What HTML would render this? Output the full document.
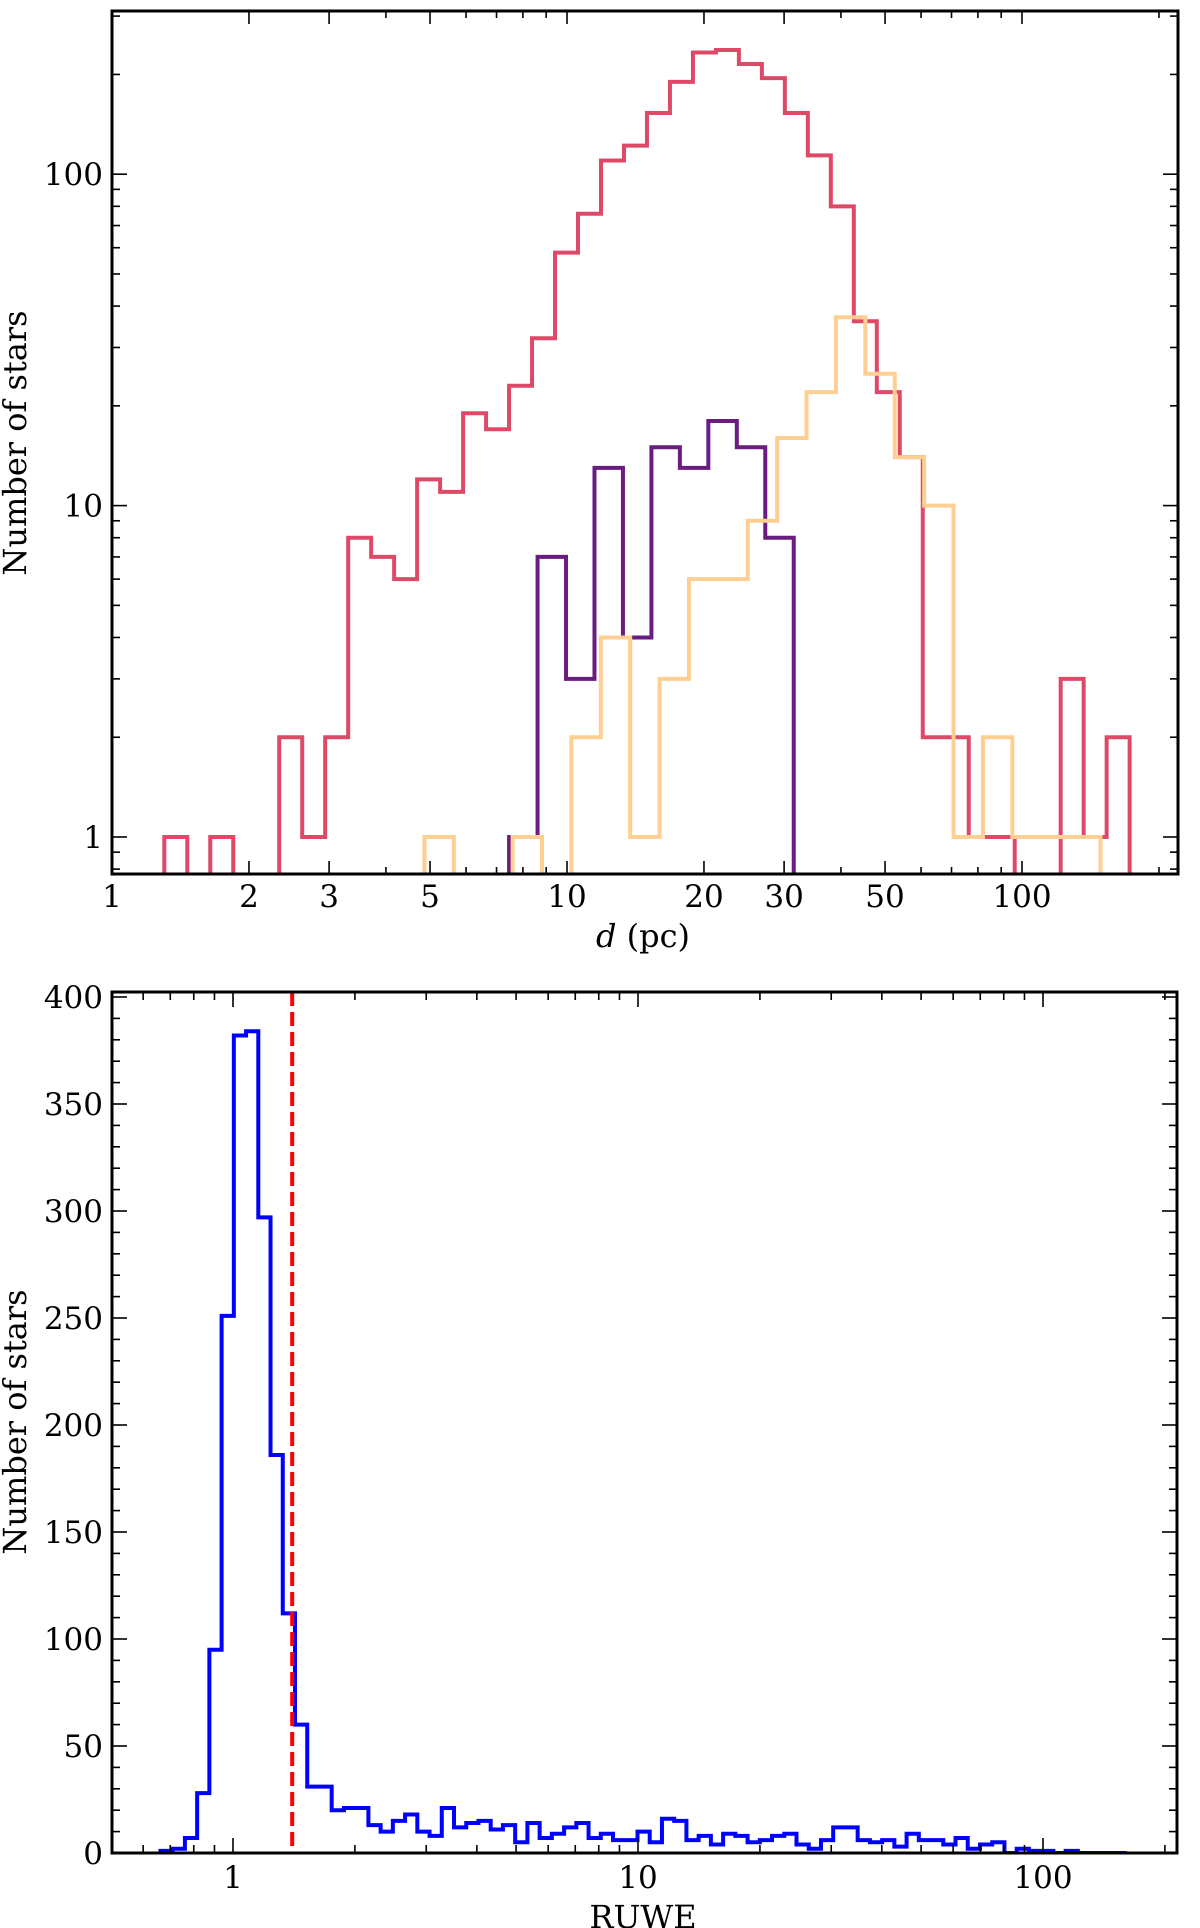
<!DOCTYPE html>
<html><head><meta charset="utf-8">
<style>
html,body{margin:0;padding:0;background:#fff;}
svg{display:block;font-family:"DejaVu Serif","Liberation Serif",serif;}
</style></head>
<body>
<svg id="fig" xmlns="http://www.w3.org/2000/svg" width="1200" height="1928" viewBox="0 0 1200 1928">
<defs>
<clipPath id="clipTop"><rect x="112" y="11" width="1066" height="863"/></clipPath>
<clipPath id="clipBot"><rect x="112" y="992" width="1065" height="861"/></clipPath>
</defs>
<g id="topPanel"></g>
<g id="botPanel"></g>
</svg>
<script>
// ---------- Top panel data (distance, pc) ----------
const redRange = [1.303, 172.4];
const redCounts = [1,0,1,0,0,2,1,2,8,7,6,12,11,19,17,23,32,58,76,110,122,153,190,233,237,215,195,153,114,80,36,22,14,2,2,1,1,0,0,3,1,2];
const purpleRange = [7.46, 31.5];
const purpleCounts = [1,7,3,13,4,15,13,18,15,8];
const orangeRange = [4.86, 148.8];
const orangeCounts = [1,0,0,1,0,2,4,1,3,6,6,9,16,22,37,25,14,10,1,2,1,1,1];
const topXLabels = [1,2,3,5,10,20,30,50,100];
const topYLabels = [1,10,100];

// ---------- Bottom panel data (RUWE) ----------
const ruweRange = [0.662, 161];
const ruweCounts = [1,2,7,28,95,251,382,384,297,186,112,60,31,31,20,21,21,13,10,15,18,10,8,21,12,14,15,11,13,5,14,7,9,12,14,7,9,6,6,10,5,16,15,6,8,4,9,8,5,6,8,9,4,2,6,12,12,6,5,6,3,9,6,6,4,7,2,4,5,0,2,1,1,0,1,0,0,0,0];
const ruweCut = [1.4];
const botXLabels = [1,10,100];
const botYLabels = [0,50,100,150,200,250,300,350,400];

const NS = "http://www.w3.org/2000/svg";
function mk(tag, attrs, parent){
  const e = document.createElementNS(NS, tag);
  for (const k in attrs) e.setAttribute(k, attrs[k]);
  parent.appendChild(e);
  return e;
}

// ---------- Top axes ----------
const T = {x0:112, x1:1178, y0:11, y1:874};
const tX = v => 112 + 455 * Math.log10(v);
const tY = v => 837 - 331.4 * Math.log10(v);
const topG = document.getElementById('topPanel');

function stepPathLog(range, counts){
  const n = counts.length;
  const la = Math.log10(range[0]), lb = Math.log10(range[1]);
  const edge = i => tX(Math.pow(10, la + (lb - la) * i / n));
  const yv = c => c > 0 ? tY(c) : 2000;
  let d = `M${edge(0)},2000`;
  for (let i = 0; i < n; i++){
    d += ` L${edge(i)},${yv(counts[i])} L${edge(i+1)},${yv(counts[i])}`;
  }
  d += ` L${edge(n)},2000`;
  return d;
}
const gSeries = mk('g', {'clip-path':'url(#clipTop)'}, topG);
const pRed = mk('path', {d: stepPathLog(redRange, redCounts), fill:'none', stroke:'#de4968', 'stroke-width':4}, gSeries);


const pPur = mk('path', {d: stepPathLog(purpleRange, purpleCounts), fill:'none', stroke:'#6a1c81', 'stroke-width':4}, gSeries);


const pOr = mk('path', {d: stepPathLog(orangeRange, orangeCounts), fill:'none', stroke:'#fecf92', 'stroke-width':4}, gSeries);



const gTT = mk('g', {stroke:'#000','stroke-width':1.6}, topG);


for (let dec = 1; dec <= 100; dec *= 10){
  for (let m = 1; m <= 9; m++){
    const v = dec * m; const x = tX(v);
    if (x <= T.x0 + 0.5 || x >= T.x1) continue;
    const L = topXLabels.includes(v) ? 13 : 7;
    mk('line', {x1:x, x2:x, y1:T.y1, y2:T.y1 - L}, gTT);
    mk('line', {x1:x, x2:x, y1:T.y0, y2:T.y0 + L}, gTT);
  }
}
for (let dec = 0.1; dec <= 100; dec *= 10){
  for (let m = 1; m <= 9; m++){
    const v = dec * m; const y = tY(v);
    if (y <= T.y0 || y >= T.y1) continue;
    const L = topYLabels.some(t => Math.abs(t - v) < 1e-6) ? 15 : 8;
    mk('line', {x1:T.x0, x2:T.x0 + L, y1:y, y2:y}, gTT);
    mk('line', {x1:T.x1, x2:T.x1 - L, y1:y, y2:y}, gTT);
  }
}
mk('rect', {x:T.x0, y:T.y0, width:T.x1-T.x0, height:T.y1-T.y0, fill:'none', stroke:'#000', 'stroke-width':3}, topG);
topXLabels.forEach(v => {
  const t = mk('text', {x:tX(v), y:907, 'text-anchor':'middle', 'font-size':31}, topG);
  
  
  t.textContent = v;
});
topYLabels.forEach(v => {
  const t = mk('text', {x:103, y:tY(v) + 11, 'text-anchor':'end', 'font-size':31}, topG);
  
  
  t.textContent = v;
});
const xt = mk('text', {x:643, y:947, 'text-anchor':'middle', 'font-size':32}, topG);


xt.innerHTML = '<tspan font-style="italic">d</tspan> (pc)';
const yt = mk('text', {x:0, y:0, 'text-anchor':'middle', 'font-size':32, transform:'translate(26,443) rotate(-90)'}, topG);


yt.textContent = 'Number of stars';

// ---------- Bottom axes ----------
const B = {x0:112, x1:1177, y0:992, y1:1853};
const bX = v => 233 + 405 * Math.log10(v);
const bY = v => 1853 - 2.14 * v;
const botG = document.getElementById('botPanel');
const gB = mk('g', {'clip-path':'url(#clipBot)'}, botG);
(function(){
  const n = ruweCounts.length;
  const la = Math.log10(ruweRange[0]), lb = Math.log10(ruweRange[1]);
  const edge = i => bX(Math.pow(10, la + (lb - la) * i / n));
  let d = `M${edge(0)},${bY(0)}`;
  for (let i = 0; i < n; i++) d += ` L${edge(i)},${bY(ruweCounts[i])} L${edge(i+1)},${bY(ruweCounts[i])}`;
  d += ` L${edge(n)},${bY(0)}`;
  const p = mk('path', {d, fill:'none', stroke:'#0000ff', 'stroke-width':4}, gB);
  
  
})();
ruweCut.forEach(v => {
  const l = mk('line', {x1:bX(v), x2:bX(v), y1:B.y0, y2:B.y1, stroke:'#ff0000', 'stroke-width':4, 'stroke-dasharray':'14 6'}, gB);
  
  
});
const gBT = mk('g', {stroke:'#000','stroke-width':1.6}, botG);


for (let dec = 0.1; dec <= 100; dec *= 10){
  for (let m = 1; m <= 9; m++){
    const v = dec * m; const x = bX(v);
    if (x <= B.x0 || x >= B.x1) continue;
    const L = botXLabels.some(t => Math.abs(t - v) < 1e-6) ? 15 : 8;
    mk('line', {x1:x, x2:x, y1:B.y1, y2:B.y1 - L}, gBT);
    mk('line', {x1:x, x2:x, y1:B.y0, y2:B.y0 + L}, gBT);
  }
}
for (let v = 0; v <= 400; v += 10){
  const y = bY(v);
  const L = v % 50 === 0 ? 15 : 8;
  mk('line', {x1:B.x0, x2:B.x0 + L, y1:y, y2:y}, gBT);
  mk('line', {x1:B.x1, x2:B.x1 - L, y1:y, y2:y}, gBT);
}
mk('rect', {x:B.x0, y:B.y0, width:B.x1-B.x0, height:B.y1-B.y0, fill:'none', stroke:'#000', 'stroke-width':3}, botG);
botXLabels.forEach(v => {
  const t = mk('text', {x:bX(v), y:1888, 'text-anchor':'middle', 'font-size':31}, botG);
  
  
  t.textContent = v;
});
botYLabels.forEach(v => {
  const t = mk('text', {x:103, y:bY(v) + 11, 'text-anchor':'end', 'font-size':31}, botG);
  
  
  t.textContent = v;
});
const xb = mk('text', {x:643, y:1928, 'text-anchor':'middle', 'font-size':32}, botG);


xb.textContent = 'RUWE';
const yb = mk('text', {x:0, y:0, 'text-anchor':'middle', 'font-size':32, transform:'translate(26,1422) rotate(-90)'}, botG);


yb.textContent = 'Number of stars';
</script>
</body></html>
